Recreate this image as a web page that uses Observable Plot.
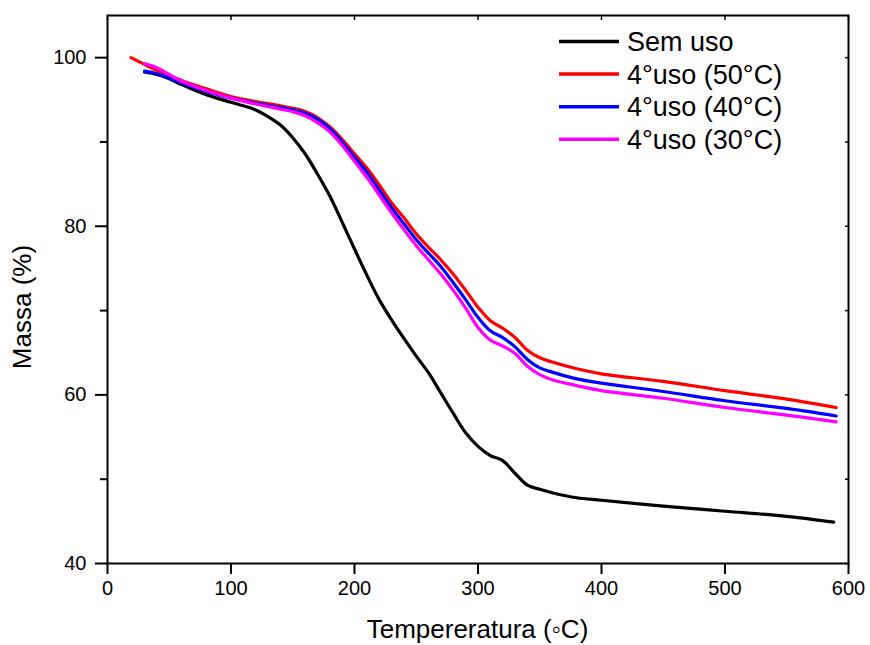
<!DOCTYPE html>
<html>
<head>
<meta charset="utf-8">
<script src="https://cdn.jsdelivr.net/npm/d3@7"></script>
<script src="https://cdn.jsdelivr.net/npm/@observablehq/plot@0.6"></script>
<style>
  html, body { margin: 0; padding: 0; background: #fff; }
  #chart { width: 870px; height: 645px; }
  svg { font-family: "Liberation Sans", Arial, sans-serif; }
</style>
</head>
<body>
<div id="chart"></div>
<script>
// ---- data ----
const seriesNames = ["Sem uso", "4°uso (50°C)", "4°uso (40°C)", "4°uso (30°C)"];
const seriesColors = ["#000000", "#ff0000", "#0000ff", "#ff00ff"];

const semUso = [[30,98.3],[40,98.0],[50,97.5],[60,96.8],[80,95.6],[100,94.7],[120,93.8],[130,93.0],[140,92.0],[150,90.5],[160,88.6],[170,86.2],[180,83.6],[190,80.5],[200,77.3],[210,74.2],[220,71.3],[230,68.9],[240,66.7],[250,64.6],[260,62.6],[270,60.2],[280,57.8],[290,55.5],[300,53.9],[310,52.8],[320,52.2],[330,50.7],[340,49.3],[350,48.8],[360,48.4],[380,47.8],[400,47.5],[450,46.8],[500,46.2],[550,45.6],[588,44.9]];
const uso50 = [[19,100.0],[30,99.2],[40,98.5],[50,97.9],[60,97.3],[80,96.3],[100,95.4],[120,94.8],[140,94.3],[150,94.0],[160,93.6],[170,92.9],[180,91.8],[190,90.3],[200,88.6],[210,86.9],[220,84.9],[230,82.8],[240,81.0],[250,79.1],[260,77.5],[270,76.0],[280,74.3],[290,72.4],[300,70.4],[310,68.8],[320,67.9],[330,66.8],[340,65.3],[350,64.4],[360,63.9],[380,63.1],[400,62.5],[450,61.6],[500,60.5],[550,59.5],[590,58.5]];
const uso40 = [[30,98.4],[40,98.1],[50,97.6],[60,97.0],[80,96.0],[100,95.2],[120,94.6],[140,94.1],[150,93.8],[160,93.4],[170,92.7],[180,91.6],[190,90.0],[200,88.2],[210,86.4],[220,84.3],[230,82.2],[240,80.3],[250,78.4],[260,76.8],[270,75.2],[280,73.3],[290,71.3],[300,69.2],[310,67.6],[320,66.8],[330,65.7],[340,64.2],[350,63.2],[360,62.7],[380,61.9],[400,61.4],[450,60.4],[500,59.3],[550,58.4],[590,57.5]];
const uso30 = [[30,99.3],[40,98.8],[50,98.0],[60,97.2],[80,96.1],[100,95.2],[120,94.5],[140,93.9],[150,93.6],[160,93.1],[170,92.3],[180,91.2],[190,89.6],[200,87.7],[210,85.8],[220,83.7],[230,81.6],[240,79.6],[250,77.7],[260,76.0],[270,74.3],[280,72.4],[290,70.3],[300,68.0],[310,66.5],[320,65.8],[330,64.9],[340,63.4],[350,62.4],[360,61.8],[380,61.1],[400,60.5],[450,59.6],[500,58.5],[550,57.6],[590,56.8]];

const xTicks = [0, 100, 200, 300, 400, 500, 600];
const yTicks = [40, 60, 80, 100];
const yMinorTicks = [50, 70, 90];
const yAllTicks = [40, 50, 60, 70, 80, 90, 100];
const xTitle = "Tempereratura (\u25E6C)";
const yTitle = "Massa (%)";

// ---- build table ----
const allSeries = [semUso, uso50, uso40, uso30];
const rows = [];
allSeries.forEach((s, i) => s.forEach(([t, m]) => rows.push({T: t, M: m, S: seriesNames[i]})));

const W = 870, H = 645;
const mL = 107, mR = 22, mT = 15, mB = 82;

const lineMarks = seriesNames.map((name, i) =>
  Plot.line(rows.filter(d => d.S === name), {
    x: "T", y: "M", stroke: seriesColors[i], strokeWidth: 3.2, curve: "catmull-rom"
  })
);

const chart = Plot.plot({
  width: W, height: H,
  marginLeft: mL, marginRight: mR, marginTop: mT, marginBottom: mB,
  style: {fontFamily: "'Liberation Sans', Arial, sans-serif", color: "#000", background: "#fff"},
  x: {domain: [0, 600]},
  y: {domain: [40, 105]},
  marks: [
    Plot.axisY({ticks: yTicks, tickSize: 12, tickPadding: 9, fontSize: 20, strokeWidth: 2, label: null}),
    Plot.axisY({ticks: yMinorTicks, tickSize: 7, text: null, strokeWidth: 2, label: null}),
    Plot.axisX({ticks: xTicks, tickSize: 11, tickPadding: 6, fontSize: 20, strokeWidth: 2, label: null}),
    Plot.axisX({anchor: "top", ticks: xTicks, tickSize: -4, text: null, strokeWidth: 1.5, label: null}),
    Plot.axisY({anchor: "right", ticks: yAllTicks, tickSize: -4, text: null, strokeWidth: 1.5, label: null}),
    ...lineMarks,
    Plot.frame({stroke: "#000", strokeWidth: 2})
  ]
});

document.getElementById("chart").appendChild(chart);

// ---- titles and legend ----
const svg = d3.select(chart);
svg.append("text")
  .attr("x", (mL + W - mR) / 2).attr("y", 638)
  .style("text-anchor", "middle")
  .style("font-size", "26px").attr("fill", "#000")
  .text(xTitle);
svg.append("text")
  .attr("transform", "translate(22,307) rotate(-90)")
  .style("text-anchor", "middle").attr("dy", "0.35em")
  .style("font-size", "26px").attr("fill", "#000")
  .text(yTitle);

const leg = svg.append("g");
seriesNames.forEach((name, i) => {
  const y = 41.5 + i * 32.6;
  leg.append("line").attr("x1", 559).attr("x2", 619).attr("y1", y).attr("y2", y)
    .attr("stroke", seriesColors[i]).attr("stroke-width", 3.5);
  leg.append("text").attr("x", 627).attr("y", y).attr("dy", "0.36em")
    .style("text-anchor", "start")
    .style("font-size", "27px").attr("fill", "#000").text(name);
});
</script>
</body>
</html>
